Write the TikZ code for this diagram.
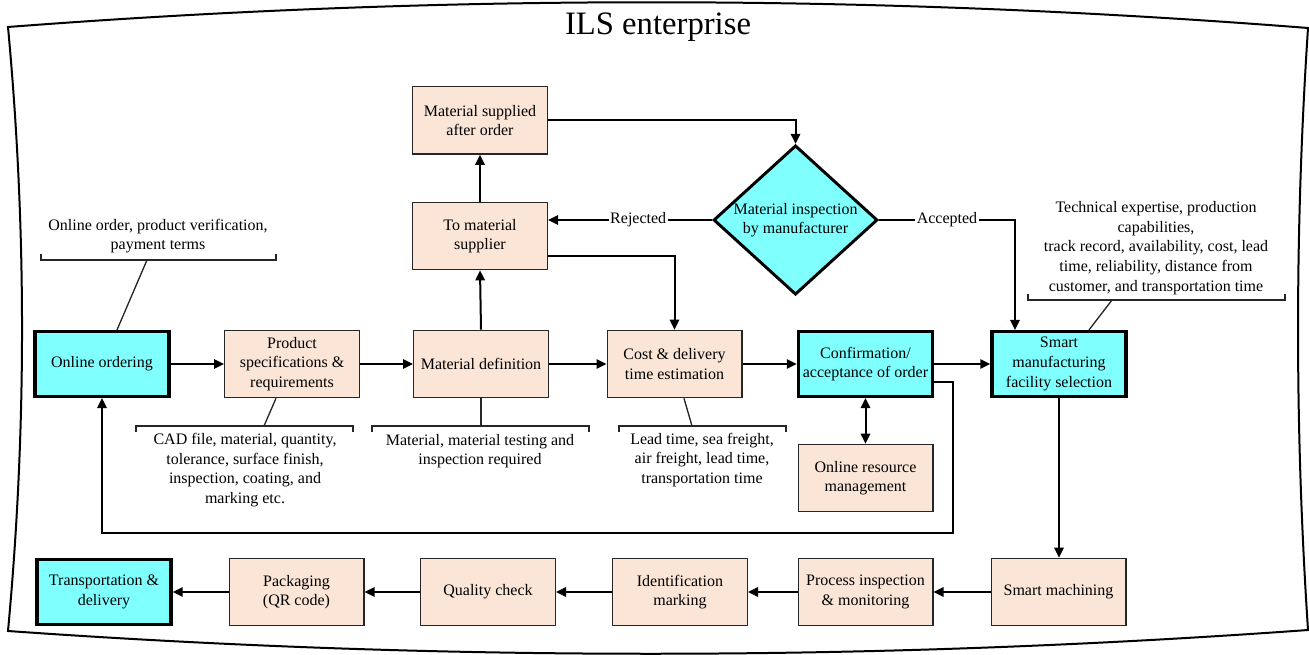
\documentclass[tikz,border=0pt]{standalone}
\usepackage{fontspec}
\setmainfont{Liberation Serif}
\usetikzlibrary{arrows.meta,shapes.geometric}
\definecolor{peach}{RGB}{251,229,214}
\definecolor{cyanb}{RGB}{128,255,255}
\begin{document}
\begin{tikzpicture}[x=0.75pt,y=-0.75pt,
  txt/.style={font=\fontsize{12}{14.7}\selectfont, align=center},
  pbox/.style={txt, draw=black!85, line width=1pt, fill=peach, minimum width=101pt, minimum height=50.5pt, inner sep=1pt},
  cbox/.style={txt, draw=black, line width=2.6pt, fill=cyanb, minimum width=100.5pt, minimum height=48.5pt, inner sep=1pt},
  tip/.tip={Triangle[length=7.5pt,width=7pt]},
  arr/.style={line width=1.5pt, -tip},
  darr/.style={line width=1.5pt, tip-tip},
  brk/.style={line width=1pt, draw=black!85},
  lbl/.style={txt, fill=white, inner sep=1pt}]
\useasboundingbox (0,0) rectangle (1309,655);

% frame
\draw[line width=1.5pt, line join=miter]
  (8,27) .. controls (441.3,-6.3) and (874.7,-6) .. (1308,28)
  .. controls (1294.7,228.7) and (1294.7,429.3) .. (1308,630)
  .. controls (874.7,661.3) and (441.3,661.7) .. (8,631)
  .. controls (26.7,429.7) and (26.7,228.3) .. (8,27) -- cycle;
\node[font=\fontsize{24.5}{28}\selectfont] (title) at (658,27) {ILS enterprise};

% main row
\node[cbox] (online) at (102,364) {Online ordering};
\node[pbox] (prod) at (292,364) {Product\\specifications \&\\requirements};
\node[pbox] (matdef) at (481,364) {Material definition};
\node[pbox] (cost) at (674.5,364) {Cost \& delivery\\time estimation};
\node[cbox] (conf) at (865.5,364) {Confirmation/\\acceptance of order};
\node[cbox] (smf) at (1059,364) {Smart\\manufacturing\\facility selection};
\node[pbox] (orm) at (865.5,478) {Online resource\\management};
\node[pbox] (tosup) at (480,236) {To material\\supplier};
\node[pbox] (supp) at (480,120.5) {Material supplied\\after order};
\node[diamond, draw=black, line width=2.2pt, fill=cyanb, txt, inner sep=0pt, aspect=1.1,
  minimum width=123pt, minimum height=112pt] (diam) at (795.5,220) {Material inspection\\by manufacturer};

% bottom row
\node[cbox] (trans) at (104,592) {Transportation \&\\delivery};
\node[pbox] (pack) at (296.5,592) {Packaging\\(QR code)};
\node[pbox] (qc) at (488,592) {Quality check};
\node[pbox] (ident) at (680,592) {Identification\\marking};
\node[pbox] (proc) at (865.5,592) {Process inspection\\\& monitoring};
\node[pbox] (smach) at (1058.5,592) {Smart machining};

% connectors
\draw[arr] (online.east) -- (prod.west);
\draw[arr] (prod.east) -- (matdef.west);
\draw[arr] (matdef.east) -- (cost.west);
\draw[arr] (cost.east) -- (conf.west);
\draw[arr] (conf.east) -- (smf.west);
\draw[arr] (matdef.north) -- (tosup.south);
\draw[arr] (tosup.north) -- (supp.south);
\draw[arr] (supp.east) -| (diam.north);
\draw[arr] (diam.west) -- node[lbl, pos=0.45]{Rejected} (diam.west -| tosup.east);
\coordinate (accx) at (1015,0);
\draw[arr] (diam.east) -| node[lbl, pos=0.25]{Accepted} (accx |- smf.north);
\draw[arr] ([yshift=-15pt]tosup.east) -| (cost.north);
\draw[darr] (conf.south) -- (orm.north);
\coordinate (lp2) at (953,533);
\draw[arr] ([yshift=-13.5pt]conf.east) -| (lp2) -| (online.south);
\draw[arr] (smf.south) -- (smf.south |- smach.north);
\draw[arr] (smach.west) -- (proc.east);
\draw[arr] (proc.west) -- (ident.east);
\draw[arr] (ident.west) -- (qc.east);
\draw[arr] (qc.west) -- (pack.east);
\draw[arr] (pack.west) -- (trans.east);

% annotations
\node[txt] (t1) at (158,236) {Online order, product verification,\\payment terms};
\draw[brk] (41,254) -- (41,260) -- (276,260) -- (276,254);
\coordinate (b1) at (147,260);
\draw[brk] (b1) -- ([xshift=11.25pt]online.north);

\node[txt] (t2) at (245,470) {CAD file, material, quantity,\\tolerance, surface finish,\\inspection, coating, and\\marking etc.};
\draw[brk] (136,432) -- (136,426) -- (353,426) -- (353,432);
\coordinate (b2) at (264,426);
\draw[brk] ([xshift=-12pt]prod.south) -- (b2);

\node[txt] (t3) at (480,451) {Material, material testing and\\inspection required};
\draw[brk] (372,432) -- (372,426) -- (589,426) -- (589,432);
\coordinate (b3) at (481,426);
\draw[brk] (matdef.south) -- (b3);

\node[txt] (t4) at (702,460) {Lead time, sea freight,\\air freight, lead time,\\transportation time};
\draw[brk] (619,432) -- (619,426) -- (786,426) -- (786,432);
\coordinate (b4) at (692,426);
\draw[brk] ([xshift=7.1pt]cost.south) -- (b4);

\node[txt] (t5) at (1156,248) {Technical expertise, production\\capabilities,\\track record, availability, cost, lead\\time, reliability, distance from\\customer, and transportation time};
\draw[brk] (1028,294) -- (1028,300) -- (1285,300) -- (1285,294);
\coordinate (b5) at (1112,300);
\draw[brk] (b5) -- ([xshift=22.5pt]smf.north);
\end{tikzpicture}
\end{document}
